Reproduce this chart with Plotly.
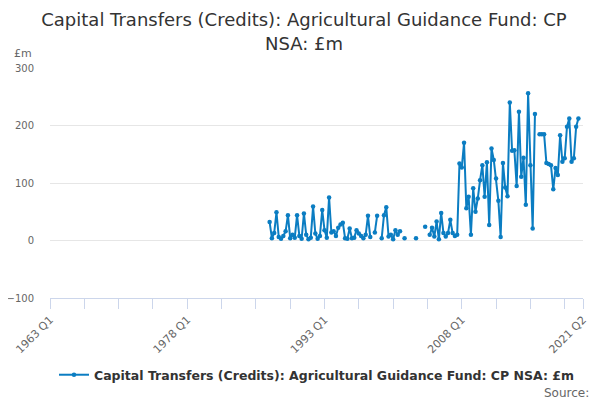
import plotly.graph_objs as go

# quarterly categories 1963 Q1 .. 2021 Q2
years = list(range(1963, 2022))
quarters = [f"{y} Q{q}" for y in years for q in range(1, 5)]
quarters = quarters[:quarters.index("2021 Q2") + 1]

series_name = "Capital Transfers (Credits): Agricultural Guidance Fund: CP NSA: £m"
first_quarter = "1987 Q1"

# £m, from 1987 Q1 (None = no data)
values = [
    32, 4, 13, 49, 6, 3, 8, 16, 44, 4,
    10, 5, 44, 8, 3, 47, 10, 2, 5, 59,
    12, 3, 8, 53, 18, 5, 75, 14, 16, 8,
    22, 28, 31, 4, 3, 21, 4, 5, 18, 12,
    8, 4, 10, 43, 6, None, 14, 43, None, 4,
    44, 58, 7, 10, 2, 18, 10, 16, None, 4,
    None, None, None, None, 4, None, None, None, 24, None,
    10, 22, 7, 33, 2, 48, 13, 7, 13, 36,
    13, 8, 10, 134, 127, 170, 56, 76, 10, 91,
    50, 73, 105, 131, 76, 136, 27, 160, 140, 108,
    69, 6, 135, 92, 77, 240, 156, 157, 95, 224,
    111, 144, 62, 256, 131, 21, 220, None,
    185, 185, 185, 135, 133, 131, 89, 126, 114, 183,
    137, 143, 198, 212, 137, 143, 198, 212, None, None,
]

tick_every = 15
tick_labels = ["1963 Q1", "1978 Q1", "1993 Q1", "2008 Q1", "2021 Q2"]
y_ticks = [-100, 0, 100, 200, 300]

start = quarters.index(first_quarter)
y = [None] * start + values
y = y + [None] * (len(quarters) - len(y))

tickvals = quarters[::tick_every] + [quarters[-1]]
ticktext = [q if q in tick_labels else "" for q in tickvals]

blue = "#0b7dc2"
font = "DejaVu Sans, sans-serif"

fig = go.Figure()
fig.add_trace(go.Scatter(
    x=quarters, y=y, mode="lines+markers", name="<b>" + series_name + "</b>",
    line=dict(color=blue, width=2), marker=dict(color=blue, size=4.5),
    connectgaps=False,
))

# page has an 8px body margin, so the figure is 592x392
fig.update_layout(
    width=592, height=392,
    margin=dict(l=42, r=17, t=60, b=102, autoexpand=False),
    paper_bgcolor="white", plot_bgcolor="white",
    font=dict(family=font, color="#666666", size=11),
    title=dict(
        text="Capital Transfers (Credits): Agricultural Guidance Fund: CP<br>NSA: £m",
        x=0.5, xanchor="center", y=0.953, yanchor="middle",
        font=dict(size=18, color="#333333"),
    ),
    showlegend=True,
    legend=dict(
        orientation="h", x=0.5, xanchor="center", y=-0.27, yanchor="top",
        itemwidth=30, font=dict(size=12.5, color="#333333"),
    ),
    xaxis=dict(
        type="category", range=[0, len(quarters) - 1], automargin=False,
        tickmode="array", tickvals=tickvals, ticktext=ticktext,
        tickangle=-45, ticks="outside", ticklen=10, tickcolor="#ccd6eb",
        showline=True, linecolor="#ccd6eb", linewidth=1,
        showgrid=False, tickfont=dict(size=11, color="#666666"),
    ),
    yaxis=dict(
        range=[-100, 300], tickvals=y_ticks, automargin=False,
        showgrid=True, gridcolor="#e6e6e6", zeroline=False,
        ticks="", ticklabelstandoff=15,
        tickfont=dict(size=10, color="#666666"),
    ),
    annotations=[
        dict(text="£m", xref="paper", yref="paper", x=-0.0713, y=1.065,
             xanchor="left", yanchor="middle", showarrow=False,
             font=dict(size=11, color="#666666")),
        dict(text="Source:", xref="paper", yref="paper", x=1.015, y=-0.413,
             xanchor="right", yanchor="middle", showarrow=False,
             font=dict(size=12, color="#666666")),
    ],
)

fig.write_html("out.html")
